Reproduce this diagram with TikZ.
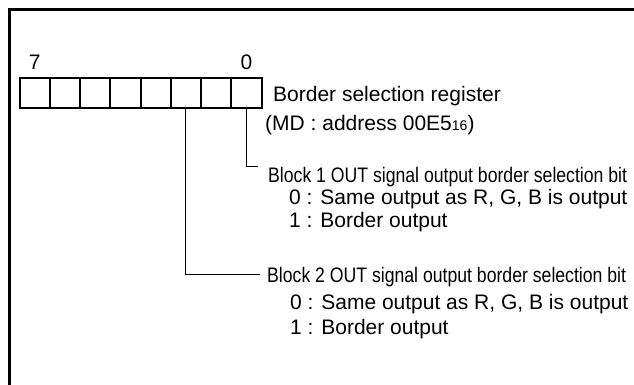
\documentclass[tikz,border=0pt]{standalone}
\usepackage{fontspec}
\setmainfont{Liberation Sans}
\newfontfamily\narrowfont{Liberation Sans}[FakeStretch=0.84]
\usetikzlibrary{positioning}
\begin{document}
\begin{tikzpicture}[x=1pt, y=-1pt,
    cell/.style={draw, line width=2pt, minimum width=30.25pt, minimum height=30.5pt, inner sep=0pt},
    txt/.style={anchor=base west, inner sep=0pt, font=\fontsize{21}{25}\selectfont},
    num/.style={inner sep=0pt, font=\fontsize{21}{25}\selectfont},
    bittxt/.style={txt, font=\fontsize{21}{25}\selectfont\narrowfont},
    wire/.style={line width=0.8pt}]
    \useasboundingbox (0,0) rectangle (634,385);
    \draw[line width=3pt] (9.5,385) -- (9.5,9.5) -- (634,9.5);
    % register cells, bit 7 on the left
    \foreach \i in {0,...,7}
        \node[cell] (b\i) at ({19.5+(7.5-\i)*30.25},93.25) {};
    \node[num, above=7pt of b7] (n7) {7};
    \node[num, above=7pt of b0] (n0) {0};
    \node[txt] (reg) at (273,101.5) {Border selection register};
    \node[txt] (addr) at (265,130.5) {(MD : address 00E5{\fontsize{14}{14}\selectfont 16})};
    % bit 0
    \coordinate (k1) at (258,166);
    \draw[wire] (b0.south) |- (k1);
    \node[bittxt] (blk1) at (268,182) {Block 1 OUT signal output border selection bit};
    \node[txt] (z1) at (289,204.5) {0 : Same output as R, G, B is output};
    \node[txt] (o1) at (289,227.5) {1 : Border output};
    % bit 2
    \coordinate (k2) at (260,274);
    \draw[wire] (b2.south) |- (k2);
    \node[bittxt] (blk2) at (267,282) {Block 2 OUT signal output border selection bit};
    \node[txt] (z2) at (290,309) {0 : Same output as R, G, B is output};
    \node[txt] (o2) at (290,334) {1 : Border output};
\end{tikzpicture}
\end{document}
